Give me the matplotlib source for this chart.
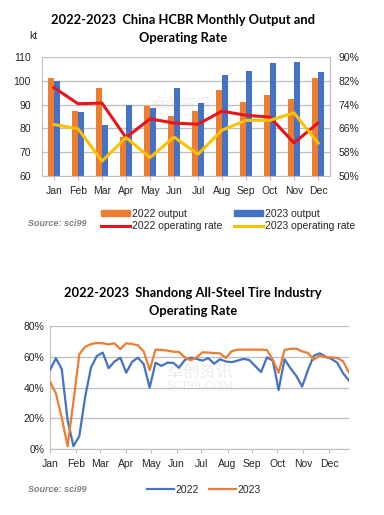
import matplotlib
matplotlib.use("Agg")
import matplotlib.pyplot as plt
from matplotlib.lines import Line2D
from matplotlib.patches import Patch
import numpy as np

# ---------------- data ----------------
months = ["Jan", "Feb", "Mar", "Apr", "May", "Jun", "Jul", "Aug", "Sep", "Oct", "Nov", "Dec"]
output_2022 = [101, 87.5, 97, 76.5, 89.5, 85, 87.5, 96.3, 91, 94, 92.5, 101.3]
output_2023 = [100, 87, 81.5, 90, 88.5, 97, 90.5, 102.5, 104.3, 107.5, 108, 103.5]
rate_2022 = [79.7, 74.3, 74.5, 62.9, 69.2, 67.8, 67.4, 71.8, 70.4, 69.8, 61.1, 67.8]
rate_2023 = [67.3, 65.9, 55.0, 62.9, 56.2, 63.1, 57.3, 65.4, 68.7, 68.7, 71.2, 61.1]

weekly_2022 = [51.3, 58.9, 52, 19, 2, 8.6, 34, 53, 60.4, 62.6, 52.5, 56.8, 59.3, 49.6,
               56.6, 59.3, 55, 39.9, 56, 54, 56, 56, 52.8, 57.8, 59.3, 58.5, 57.4, 59,
               55.4, 58.3, 56.8, 56.4, 57.4, 58.5, 57.8, 53.9, 50, 59.5, 57.4, 38.4,
               58.3, 52.5, 47.6, 40.6, 51.3, 60.6, 62.1, 60, 58.5, 56, 49.2, 44.4]
weekly_2023 = [43.8, 36.2, 20.5, 2, 31, 61.5, 66.4, 68.1, 68.8, 68.6, 67.9, 68.6, 64.9,
               68.6, 68.2, 67.3, 63.2, 51.3, 64.5, 64.3, 63.9, 63.2, 63, 59.5, 57.6, 59.5,
               62.8, 62.6, 62.3, 62.1, 59.1, 63.5, 64.5, 64.5, 64.5, 64.5, 64.5, 64.3, 58,
               49.5, 64.3, 65.1, 65.1, 63.4, 62.3, 58, 60.8, 59.5, 59.5, 59.1, 56.9, 49.5]
month_week_pos = [0, 4.43, 8.53, 12.9, 17.18, 21.6, 25.8, 30.3, 34.5, 38.8, 43.2, 47.6]

title1 = ["2022-2023  China HCBR Monthly Output and", "Operating Rate"]
title2 = ["2022-2023  Shandong All-Steel Tire Industry", "Operating Rate"]

# ---------------- style ----------------
ORANGE = "#ED7D31"
BLUE = "#4472C4"
RED = "#E8141B"
YELLOW = "#FFC000"
GRID = "#BFBFBF"
TXT = "#262626"
plt.rcParams["font.family"] = ["Liberation Sans", "DejaVu Sans"]
TFONT = ["Lato", "DejaVu Sans"]
CJK = ["Noto Sans CJK SC", "DejaVu Sans"]

fig = plt.figure(figsize=(3.84, 5.15), dpi=100)
fig.patch.set_facecolor("white")

# ---------------- top chart ----------------
ax = fig.add_axes([42 / 384, 1 - 176 / 515, 288 / 384, 119 / 515])
x = np.arange(len(months))
bw = 0.27
ax.bar(x - 0.12, output_2022, bw, color=ORANGE, zorder=2)
ax.bar(x + 0.12, output_2023, bw, color=BLUE, zorder=2)
ax.set_ylim(60, 110)
ax.set_xlim(-0.5, 11.5)
ax.set_yticks([60, 70, 80, 90, 100, 110])
ax.set_xticks(x)
ax.set_xticklabels(months)
ax.grid(axis="y", color=GRID, lw=0.9, zorder=0)
ax.tick_params(axis="y", length=0, labelsize=7.5, colors=TXT, pad=8)
ax.tick_params(axis="x", length=3, color=GRID, labelsize=7.5, colors=TXT, pad=4)
ax.spines["top"].set_visible(False)
for s in ["left", "right", "bottom"]:
    ax.spines[s].set_color(GRID)

ax2 = ax.twinx()
ax2.plot(x, rate_2022, color=RED, lw=2.2, zorder=3)
ax2.plot(x, rate_2023, color=YELLOW, lw=2.2, zorder=3)
ax2.set_ylim(50, 90)
ax2.set_yticks([50, 58, 66, 74, 82, 90])
ax2.set_yticklabels([f"{v}%" for v in [50, 58, 66, 74, 82, 90]])
ax2.tick_params(axis="y", length=0, labelsize=7.5, colors=TXT, pad=6)
for s in ["top", "left", "bottom"]:
    ax2.spines[s].set_visible(False)
ax2.spines["right"].set_color(GRID)

fig.text(183 / 384, 1 - 20 / 515, title1[0], ha="center", va="center", fontsize=9.3,
         fontweight="bold", family=TFONT, color="black")
fig.text(183 / 384, 1 - 38 / 515, title1[1], ha="center", va="center", fontsize=9.3,
         fontweight="bold", family=TFONT, color="black")
fig.text(33 / 384, 1 - 36 / 515, "kt", ha="center", va="center", fontsize=7.5, color=TXT)

# watermark
fig.text(0.47, 1 - 104 / 515, "卓创资讯", ha="center", va="center", fontsize=11,
         color="#808080", alpha=0.12, family=CJK)
fig.text(0.47, 1 - 117 / 515, "SCI99.COM", ha="center", va="center", fontsize=7,
         color="#808080", alpha=0.12, family=["DejaVu Serif"])

handles1 = [Patch(color=ORANGE), Patch(color=BLUE),
            Line2D([], [], color=RED, lw=2.2), Line2D([], [], color=YELLOW, lw=2.2)]
labels1 = ["2022 output", "2023 output", "2022 operating rate", "2023 operating rate"]
order = [0, 2, 1, 3]
fig.legend([handles1[i] for i in order], [labels1[i] for i in order], ncol=2,
           loc="center", bbox_to_anchor=(228 / 384, 1 - 220 / 515), frameon=False,
           fontsize=7.5, handlelength=2.8, handletextpad=0.15, columnspacing=1.1,
           labelspacing=0.25, borderpad=0, labelcolor=TXT, handleheight=0.6)
fig.text(57 / 384, 1 - 223 / 515, "Source: sci99", ha="center", va="center",
         fontsize=6.5, fontstyle="italic", fontweight="bold", color="#7F7F7F")

# ---------------- bottom chart ----------------
bx = fig.add_axes([50 / 384, 1 - 449.3 / 515, 299 / 384, 123.6 / 515])
w = np.arange(len(weekly_2022))
bx.plot(w, weekly_2022, color=BLUE, lw=1.6, zorder=3)
bx.plot(w, weekly_2023, color=ORANGE, lw=1.6, zorder=3)
bx.set_ylim(0, 80)
bx.set_xlim(0, len(w) - 1)
bx.set_yticks([0, 20, 40, 60, 80])
bx.set_yticklabels([f"{v}%" for v in [0, 20, 40, 60, 80]])
bx.set_xticks(month_week_pos)
bx.set_xticklabels(months)
bx.grid(axis="y", color=GRID, lw=0.9, zorder=0)
bx.tick_params(axis="y", length=0, labelsize=7.5, colors=TXT, pad=4)
bx.tick_params(axis="x", length=3, color=GRID, labelsize=7.5, colors=TXT, pad=4)
for s in ["top", "right"]:
    bx.spines[s].set_visible(False)
for s in ["left", "bottom"]:
    bx.spines[s].set_color(GRID)

fig.text(193 / 384, 1 - 293 / 515, title2[0], ha="center", va="center", fontsize=9.3,
         fontweight="bold", family=TFONT, color="black")
fig.text(193 / 384, 1 - 311 / 515, title2[1], ha="center", va="center", fontsize=9.3,
         fontweight="bold", family=TFONT, color="black")
fig.text(0.52, 1 - 372 / 515, "卓创资讯", ha="center", va="center", fontsize=12,
         color="#808080", alpha=0.15, family=CJK)
fig.text(0.52, 1 - 386 / 515, "SCI99.COM", ha="center", va="center", fontsize=8,
         color="#808080", alpha=0.15, family=["DejaVu Serif"])

handles2 = [Line2D([], [], color=BLUE, lw=1.6), Line2D([], [], color=ORANGE, lw=1.6)]
fig.legend(handles2, ["2022", "2023"], ncol=2, loc="center",
           bbox_to_anchor=(204 / 384, 1 - 490 / 515), frameon=False, fontsize=7.5,
           handlelength=2.6, handletextpad=0.15, columnspacing=1.0, borderpad=0,
           labelcolor=TXT)
fig.text(57 / 384, 1 - 489 / 515, "Source: sci99", ha="center", va="center",
         fontsize=6.5, fontstyle="italic", fontweight="bold", color="#7F7F7F")

fig.savefig("out.png", dpi=100)
